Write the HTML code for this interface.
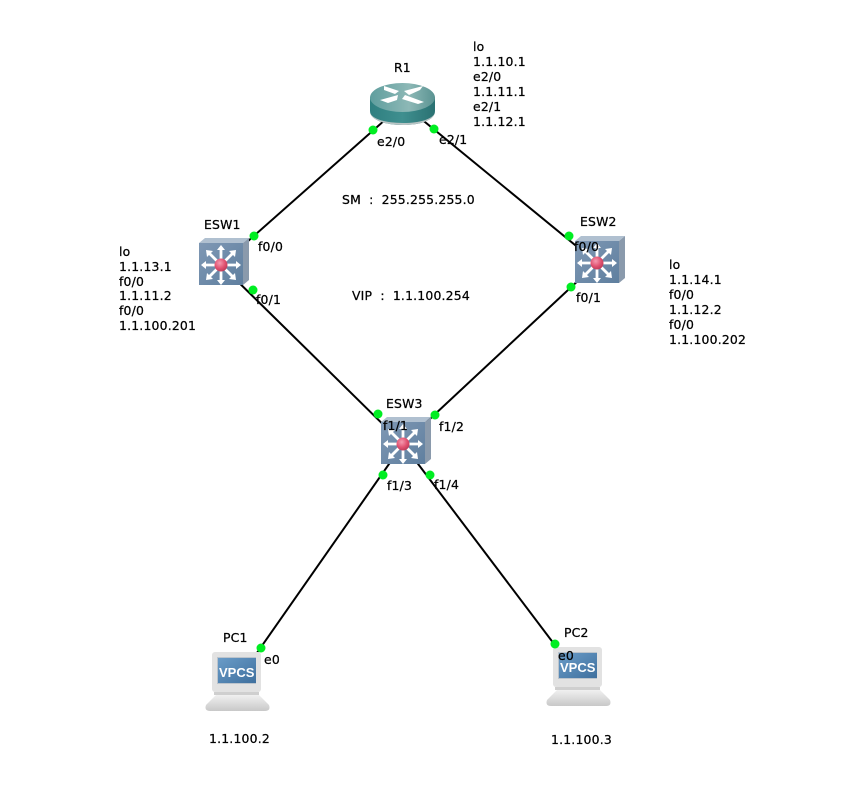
<!DOCTYPE html>
<html>
<head>
<meta charset="utf-8">
<style>
html,body{margin:0;padding:0;background:#fff;}
svg{display:block;}
text{font-family:"DejaVu Sans","Liberation Sans","NanumGothic",sans-serif;font-size:12.4px;fill:#000;stroke:#000;stroke-width:.25px;letter-spacing:.2px;word-spacing:4px;}
text.v{font-family:"Liberation Sans",sans-serif;font-weight:bold;font-size:13px;fill:#fff;stroke:none;letter-spacing:0;}
</style>
</head>
<body>
<svg width="867" height="800" viewBox="0 0 867 800" xmlns="http://www.w3.org/2000/svg">
<defs>
<linearGradient id="sw" x1="0" y1="0" x2="1" y2="1"><stop offset="0" stop-color="#7f98b4"/><stop offset="1" stop-color="#5f7f9f"/></linearGradient>
<radialGradient id="ball" cx=".4" cy=".35" r=".7"><stop offset="0" stop-color="#f59ab0"/><stop offset=".6" stop-color="#e0506f"/><stop offset="1" stop-color="#b83a58"/></radialGradient>
<linearGradient id="rtop" x1="0" y1="0" x2="1" y2="0"><stop offset="0" stop-color="#5f9e9e"/><stop offset=".6" stop-color="#8db8b6"/><stop offset="1" stop-color="#5a9392"/></linearGradient>
<linearGradient id="rbody" x1="0" y1="0" x2="1" y2="0"><stop offset="0" stop-color="#2f7f80"/><stop offset=".5" stop-color="#3f8f8f"/><stop offset="1" stop-color="#2a7172"/></linearGradient>
<linearGradient id="base" x1="0" y1="0" x2="0" y2="1"><stop offset="0" stop-color="#f0f0f0"/><stop offset="1" stop-color="#c8c8c8"/></linearGradient>
<linearGradient id="scr" x1="0" y1="0" x2="1" y2="1"><stop offset="0" stop-color="#6a9cc8"/><stop offset="1" stop-color="#3f709e"/></linearGradient>
<g id="switch">
  <polygon points="-22,-22 -16,-27 28,-27 22,-22" fill="#b0c0d0"/>
  <polygon points="22,-22 28,-27 28,15 22,20" fill="#8a9aac"/>
  <rect x="-22" y="-22" width="44" height="42" fill="url(#sw)"/>
  <g stroke="#fff" stroke-width="2.8" fill="#fff">
    <line x1="-17" y1="0" x2="17" y2="0"/>
    <line x1="0" y1="-17" x2="0" y2="17"/>
    <line x1="-12" y1="-12" x2="12" y2="12"/>
    <line x1="12" y1="-12" x2="-12" y2="12"/>
  </g>
  <g fill="#fff">
    <polygon points="-20,0 -15,-4 -15,4"/>
    <polygon points="20,0 15,-4 15,4"/>
    <polygon points="0,-20 -4,-15 4,-15"/>
    <polygon points="0,20 -4,15 4,15"/>
    <polygon points="-15,-15 -14,-8 -8,-14"/>
    <polygon points="15,-15 14,-8 8,-14"/>
    <polygon points="-15,15 -14,8 -8,14"/>
    <polygon points="15,15 14,8 8,14"/>
  </g>
  <circle cx="0" cy="0" r="6.5" fill="url(#ball)"/>
</g>
<g id="pc">
  <path d="M216 695 H259 L269 705 Q271 711 265 711 H210 Q204 711 206 705 Z" fill="url(#base)"/>
  <rect x="212" y="652" width="49" height="40" rx="3" fill="#e2e2e2"/>
  <rect x="214" y="692" width="45" height="3" fill="#cfcfcf"/>
  <rect x="217" y="657" width="39" height="27" fill="#bcc4cc"/>
  <rect x="218" y="658" width="38" height="25" fill="url(#scr)"/>
</g>
</defs>

<g stroke="#000" stroke-width="2" fill="none">
  <line x1="403" y1="104" x2="221" y2="265"/>
  <line x1="403" y1="104" x2="597" y2="263"/>
  <line x1="221" y1="265" x2="403" y2="444"/>
  <line x1="597" y1="263" x2="403" y2="444"/>
  <line x1="403" y1="444" x2="238" y2="680"/>
  <line x1="403" y1="444" x2="579" y2="677"/>
</g>

<!-- Router -->
<path d="M370 97 V111 C370 120 385 125 403 125 C421 125 435 120 435 111 V97 Z" fill="url(#rbody)"/>
<path d="M370 113 C372 120 385 125 403 125 C421 125 433 120 435 113 C432 119 421 123 403 123 C385 123 373 119 370 113 Z" fill="#b9c4c4"/>
<ellipse cx="402.5" cy="97.5" rx="32.5" ry="14.5" fill="url(#rtop)"/>
<g fill="#fff">
  <polygon points="384,86 399,91 395,94 384,90"/>
  <polygon points="423,86 404,91 409,95 420,90"/>
  <polygon points="380,100 398,95 397,100 388,103"/>
  <polygon points="405,95 424,102 418,104 402,99"/>
</g>

<use href="#switch" x="221" y="265"/>
<use href="#switch" x="597" y="263"/>
<use href="#switch" x="403" y="444"/>

<use href="#pc"/>
<use href="#pc" x="341" y="-5"/>
<text class="v" x="219" y="677">VPCS</text>
<text class="v" x="560" y="672">VPCS</text>

<g fill="#00ee22">
  <circle cx="373" cy="130" r="4.5"/>
  <circle cx="434" cy="129" r="4.5"/>
  <circle cx="254" cy="236" r="4.5"/>
  <circle cx="253" cy="290" r="4.5"/>
  <circle cx="569" cy="236" r="4.5"/>
  <circle cx="571" cy="287" r="4.5"/>
  <circle cx="378" cy="414" r="4.5"/>
  <circle cx="435" cy="415" r="4.5"/>
  <circle cx="383" cy="475" r="4.5"/>
  <circle cx="430" cy="475" r="4.5"/>
  <circle cx="261" cy="648" r="4.5"/>
  <circle cx="555" cy="644" r="4.5"/>
</g>

<text x="394" y="72">R1</text>
<text x="473" y="51">lo</text>
<text x="473" y="66">1.1.10.1</text>
<text x="473" y="81">e2/0</text>
<text x="473" y="96">1.1.11.1</text>
<text x="473" y="111">e2/1</text>
<text x="473" y="126">1.1.12.1</text>
<text x="377" y="146">e2/0</text>
<text x="439" y="144">e2/1</text>

<text x="342" y="204">SM : 255.255.255.0</text>
<text x="352" y="300">VIP : 1.1.100.254</text>

<text x="204" y="229">ESW1</text>
<text x="258" y="251">f0/0</text>
<text x="256" y="304">f0/1</text>
<text x="119" y="256">lo</text>
<text x="119" y="271">1.1.13.1</text>
<text x="119" y="286">f0/0</text>
<text x="119" y="300">1.1.11.2</text>
<text x="119" y="315">f0/0</text>
<text x="119" y="330">1.1.100.201</text>

<text x="580" y="226">ESW2</text>
<text x="574" y="251">f0/0</text>
<text x="576" y="302">f0/1</text>
<text x="669" y="269">lo</text>
<text x="669" y="284">1.1.14.1</text>
<text x="669" y="299">f0/0</text>
<text x="669" y="314">1.1.12.2</text>
<text x="669" y="329">f0/0</text>
<text x="669" y="344">1.1.100.202</text>

<text x="386" y="408">ESW3</text>
<text x="383" y="430">f1/1</text>
<text x="439" y="431">f1/2</text>
<text x="387" y="490">f1/3</text>
<text x="434" y="489">f1/4</text>

<text x="223" y="642">PC1</text>
<text x="264" y="664">e0</text>
<text x="564" y="637">PC2</text>
<text x="558" y="660">e0</text>
<text x="209" y="743">1.1.100.2</text>
<text x="551" y="744">1.1.100.3</text>
</svg>
</body>
</html>
